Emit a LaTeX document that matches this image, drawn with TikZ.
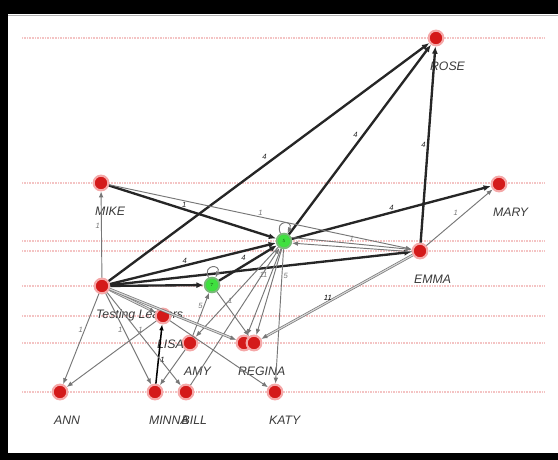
\documentclass[tikz,border=0pt]{standalone}
\usepackage{fontspec}
\setsansfont{Liberation Sans}
\usepackage{tikz}
\usetikzlibrary{arrows.meta,positioning}
\definecolor{NetRed}{HTML}{D41A1A}
\definecolor{NetGlow}{HTML}{F5A8A8}
\definecolor{NetGreen}{HTML}{3FE03F}
\definecolor{NetDarkGreen}{HTML}{1E8A1E}
\definecolor{NetGray}{HTML}{777777}
\definecolor{NetLight}{HTML}{D6D6D6}
\definecolor{NetRow}{HTML}{F4C4C4}
\definecolor{NetText}{HTML}{3A3A3A}

\begin{document}
\begin{tikzpicture}[x=0.03cm,y=-0.03cm,
    actor/.style={circle,fill=NetRed,draw=NetGlow,line width=1.8pt,minimum size=0.44cm,inner sep=0pt},
    leader/.style={circle,fill=NetGreen,draw=NetDarkGreen!60,line width=1.6pt,minimum size=0.44cm,inner sep=0pt,font=\fontsize{4}{4}\selectfont\color{NetDarkGreen!60!black}},
    nlabel/.style={anchor=north west,xshift=-0.22cm,yshift=-0.42cm,inner sep=1pt,text=NetText,font=\fontsize{10.5}{12}\selectfont\sffamily\itshape},
    wlabel/.style={inner sep=1pt,font=\fontsize{6.5}{7}\selectfont\sffamily\itshape},
    heavy/.style={-{Latex[length=2.2mm,width=1.8mm]},line width=2pt,black!85},
    light/.style={-{Latex[length=1.8mm,width=1.4mm]},line width=0.8pt,NetGray},
    twin/.style={-{Latex[length=1.8mm,width=1.4mm]},draw=NetGray,double=NetLight,double distance=1pt,line width=0.6pt},
    row/.style={NetRow,line width=2.2pt,dash pattern=on 0.7pt off 0.7pt}
  ]
    \useasboundingbox (0,0) rectangle (558,460);
    % frame
    \fill[white] (0,0) rectangle (558,460);
    \fill[black] (0,0) rectangle (558,14);
    \fill[black] (0,0) rectangle (8,460);
    \fill[black] (0,453) rectangle (558,460);
    \draw[gray!60] (8,15.5) -- (558,15.5);

    % level lines
    \foreach \ly in {38,183,241,251,286,316,343,392}
      \draw[row] (22,\ly) -- (545,\ly);

    % actors
    \node[actor,label={[nlabel]below:ROSE}] (rose) at (436,38) {};
    \node[actor,label={[nlabel]below:MIKE}] (mike) at (101,183) {};
    \node[actor,label={[nlabel]below:MARY}] (mary) at (499,184) {};
    \node[actor,label={[nlabel]below:EMMA}] (emma) at (420,251) {};
    \node[actor,label={[nlabel]below:Testing Leaders}] (tl) at (102,286) {};
    \node[actor,label={[nlabel]below:ANN}] (ann) at (60,392) {};
    \node[actor,label={[nlabel]below:MINNA}] (minna) at (155,392) {};
    \node[actor,label={[nlabel,xshift=0.05cm]below:BILL}] (bill) at (186,392) {};
    \node[actor,label={[nlabel]below:KATY}] (katy) at (275,392) {};
    \node[actor,label={[nlabel]below:AMY}] (amy) at (190,343) {};
    \node[actor,label={[nlabel]below:REGINA}] (regina) at (244,343) {};
    \node[actor] (rx) at (254,343) {};
    \node[actor,label={[nlabel]below:LISA}] (lisa) at (163,316) {};

    % leaders
    \node[leader] (ga) at (284,241) {5};
    \node[leader] (gb) at (212,285) {7};

    % strong ties
    \draw[heavy] (tl) -- node[wlabel,above left]{4} (rose);
    \draw[heavy] (ga) -- node[wlabel,above left]{4} (rose);
    \draw[heavy] (emma) -- node[wlabel,left]{4} (rose);
    \draw[heavy] (mike) -- node[wlabel,above,pos=0.45]{1} (ga);
    \draw[heavy] (tl) -- node[wlabel,above,pos=0.45]{4} (ga);
    \draw[heavy] (gb) -- node[wlabel,above left]{4} (ga);
    \draw[heavy] (tl) -- (emma);
    \draw[heavy] (tl) -- (gb);
    \draw[heavy] (ga) -- node[wlabel,above]{4} (mary);
    \draw[-{Latex[length=1.8mm,width=1.4mm]},line width=1.3pt,black] (minna) -- node[wlabel,right,pos=0.4]{1} (lisa);

    % weak ties
    \draw[light] (mike) -- node[wlabel,above]{1} (emma);
    \draw[light] (tl) -- node[wlabel,left,pos=0.6]{1} (mike);
    \draw[light] (emma) -- node[wlabel,above left]{1} (mary);
    \draw[light] (ga.25) -- node[wlabel,above]{1} (emma.170);
    \draw[light] (emma.185) -- (ga.-15);
    \draw[light] (ga) -- node[wlabel,right,pos=0.2]{5} (katy);
    \draw[light] (ga) -- (rx);
    \draw[light] (ga) -- node[wlabel,above left,pos=0.35]{11} (regina);
    \draw[light] (ga) -- (amy);
    \draw[light] (bill) -- (ga);
    \draw[light] (gb) -- node[wlabel,above right,pos=0.3]{1} (rx);
    \draw[light] (amy) -- node[wlabel,left,pos=0.7]{5} (gb);
    \draw[light] (tl) -- node[wlabel,left,pos=0.4]{1} (ann);
    \draw[light] (tl) -- node[wlabel,left,pos=0.4]{1} (minna);
    \draw[light] (tl) -- node[wlabel,right,pos=0.4]{1} (bill);
    \draw[light] (lisa) -- (ann);
    \draw[light] (amy) -- (minna);
    \draw[light] (lisa) -- (katy);
    \draw[light] (ga) to[out=115,in=65,min distance=0.45cm] (ga);
    \draw[light] (gb) to[out=115,in=65,min distance=0.45cm] (gb);

    % doubled ties
    \draw[twin] (emma) -- node[wlabel,above,pos=0.56]{11} (rx);
    \draw[twin] (tl) -- (lisa);
    \draw[twin] (tl) -- (regina);
  \end{tikzpicture}
\end{document}
